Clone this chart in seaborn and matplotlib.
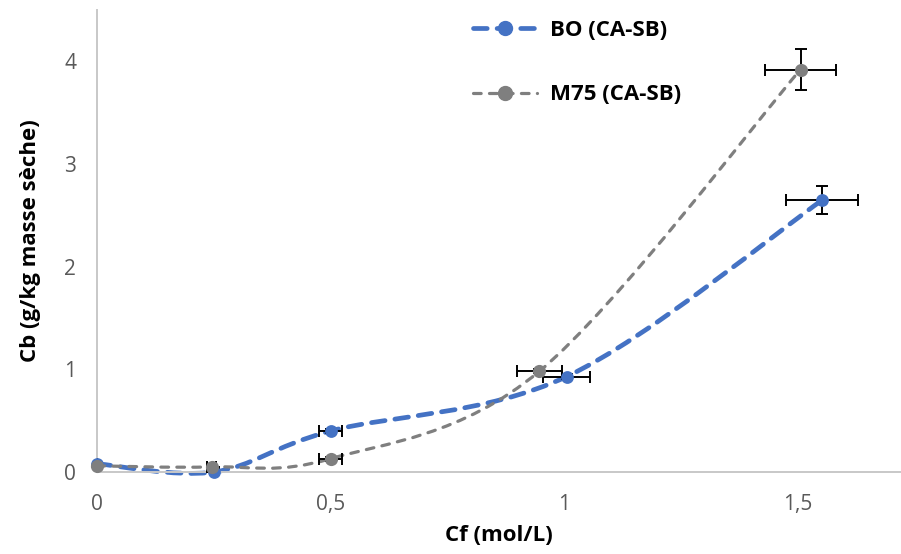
import numpy as np
import matplotlib
matplotlib.use("Agg")
import matplotlib.pyplot as plt
from matplotlib.path import Path
from matplotlib.patches import PathPatch
from matplotlib.lines import Line2D
import seaborn as sns

# data
cf_bo = [0.0, 0.25, 0.50, 1.005, 1.552]
cb_bo = [0.08, 0.0, 0.40, 0.93, 2.65]
xerr_bo = [0.0, 0.01, 0.025, 0.05, 0.077]
yerr_bo = [0.0, 0.0, 0.02, 0.02, 0.135]

cf_m75 = [0.0, 0.245, 0.50, 0.946, 1.505]
cb_m75 = [0.06, 0.05, 0.13, 0.98, 3.92]
xerr_m75 = [0.0, 0.01, 0.025, 0.048, 0.076]
yerr_m75 = [0.0, 0.0, 0.02, 0.02, 0.20]

labels = ["BO (CA-SB)", "M75 (CA-SB)"]
xticks = [0, 0.5, 1, 1.5]
xtick_labels = ["0", "0,5", "1", "1,5"]
yticks = [0, 1, 2, 3, 4]

BLUE = "#4472C4"
GRAY = "#7F7F7F"

sns.set_style("white")
plt.rcParams['font.family'] = ['Open Sans', 'DejaVu Sans']


def smooth_path(xs, ys):
    # bezier segments like excel's "smoothed line"
    p = np.column_stack([xs, ys]).astype(float)
    ext = np.vstack([p[0], p, p[-1]])
    verts = [tuple(p[0])]
    codes = [Path.MOVETO]
    for i in range(len(p) - 1):
        p0, p1, p2, p3 = ext[i], ext[i + 1], ext[i + 2], ext[i + 3]
        c1 = p1 + (p2 - p0) / 6
        c2 = p2 - (p3 - p1) / 6
        verts += [tuple(c1), tuple(c2), tuple(p2)]
        codes += [Path.CURVE4] * 3
    return Path(verts, codes)


fig = plt.figure(figsize=(9.01, 5.54), dpi=100)
ax = fig.add_axes([97 / 901, 82 / 554, 804 / 901, 462 / 554])

# smoothed dashed lines
ax.add_patch(PathPatch(smooth_path(cf_bo, cb_bo), fill=False, edgecolor=BLUE,
                       lw=3.4, linestyle=(0, (2.9, 2.1)), capstyle='round',
                       zorder=2, clip_on=False))
ax.add_patch(PathPatch(smooth_path(cf_m75, cb_m75), fill=False, edgecolor=GRAY,
                       lw=2.3, linestyle=(0, (2.4, 2.6)), capstyle='round',
                       zorder=2, clip_on=False))

# error bars
for x, y, xe, ye in [(cf_bo, cb_bo, xerr_bo, yerr_bo), (cf_m75, cb_m75, xerr_m75, yerr_m75)]:
    ax.errorbar(x, y, xerr=xe, yerr=ye, fmt='none', ecolor='black',
                elinewidth=1.4, capsize=4.5, capthick=1.4, zorder=3)

# markers
sns.scatterplot(x=cf_bo, y=cb_bo, ax=ax, color=BLUE, s=85, edgecolor=BLUE,
                linewidth=0, zorder=4, clip_on=False)
sns.scatterplot(x=cf_m75, y=cb_m75, ax=ax, color=GRAY, s=90, edgecolor=GRAY,
                linewidth=0, zorder=5, clip_on=False)

ax.set_xlim(0, 1.72)
ax.set_ylim(0, 4.5)
ax.set_xticks(xticks)
ax.set_xticklabels(xtick_labels)
ax.set_yticks(yticks)
ax.tick_params(length=0, labelsize=15, labelcolor='#595959')
ax.tick_params(axis='x', pad=16)
ax.tick_params(axis='y', pad=15)
for side in ['top', 'right']:
    ax.spines[side].set_visible(False)
for side in ['left', 'bottom']:
    ax.spines[side].set_color('#C8C8C8')
    ax.spines[side].set_linewidth(1.4)

ax.set_xlabel("Cf (mol/L)", fontsize=16, fontweight='bold', color='black', labelpad=7)
ax.set_ylabel("Cb (g/kg masse sèche)", fontsize=16, fontweight='bold', color='black', labelpad=17)

handles = [
    Line2D([], [], color=BLUE, lw=3.4, linestyle=(0, (2.9, 2.1)), dash_capstyle='round',
           marker='o', markersize=10, markerfacecolor=BLUE, markeredgecolor=BLUE),
    Line2D([], [], color=GRAY, lw=2.3, linestyle=(0, (2.4, 2.6)), dash_capstyle='round',
           marker='o', markersize=10, markerfacecolor=GRAY, markeredgecolor=GRAY),
]
fig.legend(handles, labels, loc='upper left', bbox_to_anchor=(473 / 901, 1 - 20 / 554),
           frameon=False, borderaxespad=0, borderpad=0, handlelength=2.9,
           handletextpad=0.55, labelspacing=1.95, numpoints=1, labelcolor='black',
           prop={'weight': 'bold', 'size': 16})

fig.savefig("out.png", dpi=100)
